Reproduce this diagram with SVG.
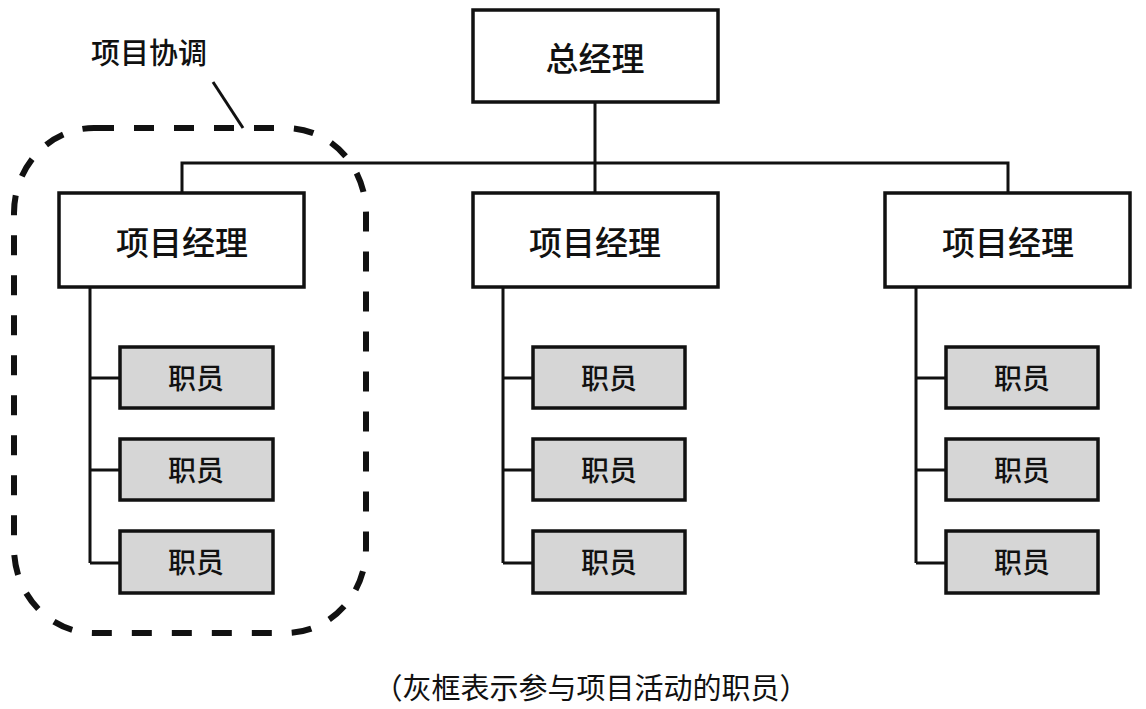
<svg xmlns="http://www.w3.org/2000/svg" width="1146" height="709" viewBox="0 0 1146 709">
<style>
.box{fill:#fff;stroke:#111;stroke-width:3.5}
.staff{fill:#d6d6d6;stroke:#111;stroke-width:3.5}
.ln{fill:none;stroke:#111;stroke-width:3}
.t{font-family:"Noto Sans CJK SC","Noto Sans CJK JP",sans-serif;fill:#111;text-anchor:middle;dominant-baseline:central}
.big{font-size:33px;font-weight:500}
.sm{font-size:28px;font-weight:500}
</style>
<rect width="1146" height="709" fill="#fff"/>
<g id="connectors">
<path class="ln" d="M595,102 V193 M182,193 V163 H1008 V193"/>
<path class="ln" d="M90,287 V563 M90,378 H120 M90,470 H120 M90,563 H120"/>
<path class="ln" d="M503,287 V563 M503,378 H533 M503,470 H533 M503,563 H533"/>
<path class="ln" d="M916,287 V563 M916,378 H946 M916,470 H946 M916,563 H946"/>
</g>
<g id="gm"><rect class="box" x="473" y="10" width="245" height="92"/><text class="t big" x="595" y="57">总经理</text></g>
<g id="pm1"><rect class="box" x="59" y="193" width="245" height="94"/><text class="t big" x="182" y="241">项目经理</text></g>
<g id="pm2"><rect class="box" x="473" y="193" width="245" height="94"/><text class="t big" x="595" y="241">项目经理</text></g>
<g id="pm3"><rect class="box" x="885" y="193" width="245" height="94"/><text class="t big" x="1008" y="241">项目经理</text></g>
<g id="s11"><rect class="staff" x="120" y="347" width="153" height="61"/><text class="t sm" x="196" y="377">职员</text></g>
<g id="s12"><rect class="staff" x="120" y="439" width="153" height="61"/><text class="t sm" x="196" y="469">职员</text></g>
<g id="s13"><rect class="staff" x="120" y="531" width="153" height="62"/><text class="t sm" x="196" y="561">职员</text></g>
<g id="s21"><rect class="staff" x="533" y="347" width="152" height="61"/><text class="t sm" x="609" y="377">职员</text></g>
<g id="s22"><rect class="staff" x="533" y="439" width="152" height="61"/><text class="t sm" x="609" y="469">职员</text></g>
<g id="s23"><rect class="staff" x="533" y="531" width="152" height="62"/><text class="t sm" x="609" y="561">职员</text></g>
<g id="s31"><rect class="staff" x="946" y="347" width="152" height="61"/><text class="t sm" x="1022" y="377">职员</text></g>
<g id="s32"><rect class="staff" x="946" y="439" width="152" height="61"/><text class="t sm" x="1022" y="469">职员</text></g>
<g id="s33"><rect class="staff" x="946" y="531" width="152" height="62"/><text class="t sm" x="1022" y="561">职员</text></g>
<g id="coord">
<rect x="14" y="128" width="352" height="505" rx="80" ry="85" fill="none" stroke="#111" stroke-width="6" stroke-dasharray="20 20"/>
<path class="ln" d="M213,82 L243,128"/>
<text class="t" x="149" y="51" style="font-size:29px;font-weight:500">项目协调</text>
</g>
<text class="t" x="591" y="686" style="font-size:29px">（灰框表示参与项目活动的职员）</text>
</svg>
